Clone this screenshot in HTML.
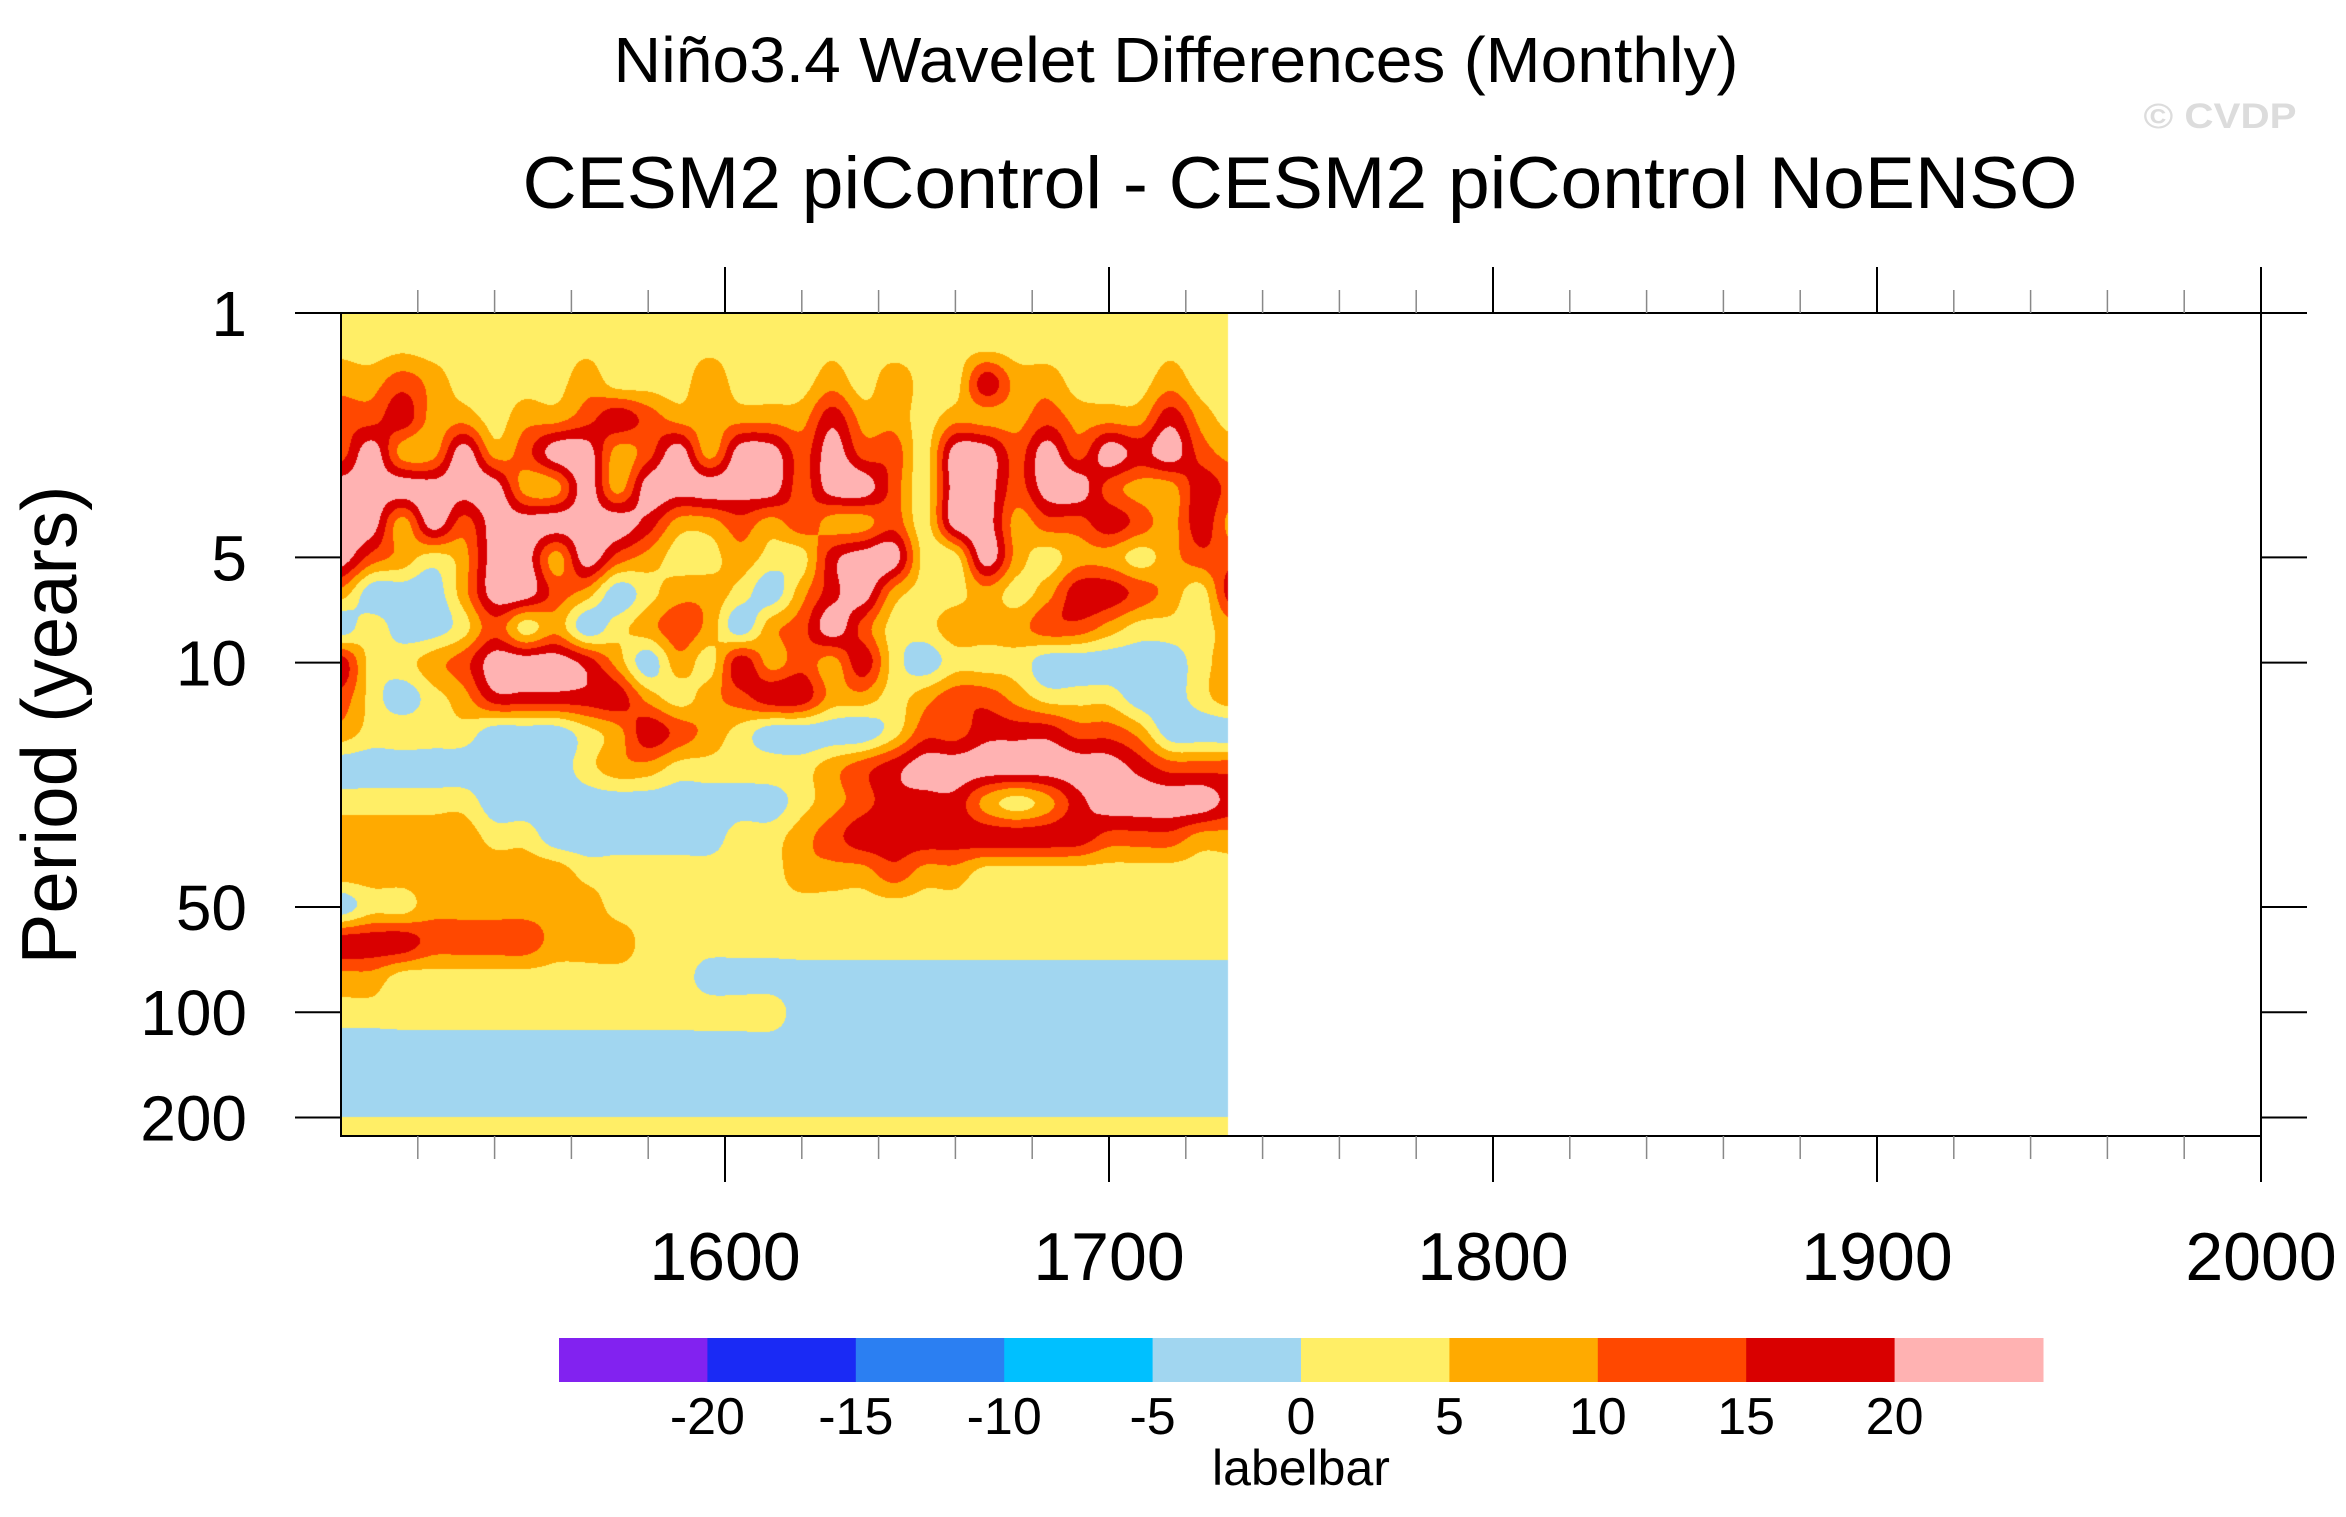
<!DOCTYPE html>
<html><head><meta charset="utf-8">
<style>
html,body{margin:0;padding:0;background:#fff;}
#wrap{position:relative;width:2346px;height:1517px;overflow:hidden;font-family:"Liberation Sans",sans-serif;}
#field{position:absolute;left:0;top:0;}
#svg{position:absolute;left:0;top:0;}
</style></head>
<body>
<div id="wrap">
<canvas id="field" width="2346" height="1517"></canvas>
<svg id="svg" width="2346" height="1517" xmlns="http://www.w3.org/2000/svg">
  <text x="1176" y="82" font-size="64" text-anchor="middle" textLength="1125" lengthAdjust="spacingAndGlyphs" font-family="Liberation Sans, sans-serif">Niño3.4 Wavelet Differences (Monthly)</text>
  <text x="1300" y="208" font-size="73" text-anchor="middle" textLength="1555" lengthAdjust="spacingAndGlyphs" font-family="Liberation Sans, sans-serif">CESM2 piControl - CESM2 piControl NoENSO</text>
  <text x="2220" y="128" font-size="35" font-weight="bold" fill="#dcdcdc" text-anchor="middle" textLength="153" lengthAdjust="spacingAndGlyphs" font-family="Liberation Sans, sans-serif">© CVDP</text>
  <text transform="translate(76,725) rotate(-90)" font-size="78" text-anchor="middle" textLength="479" lengthAdjust="spacingAndGlyphs" font-family="Liberation Sans, sans-serif">Period (years)</text>
  <g id="axes"></g>
  <g id="colorbar"></g>
  <text x="1301" y="1485" font-size="50" text-anchor="middle" font-family="Liberation Sans, sans-serif">labelbar</text>
</svg>
</div>
<script>
// ---- data ----
const startYear = 1500;
const endYear = 1731;
const yearStep = 8;
const logStep = 0.1;
// rows: log10(period) = 0, 0.1, ... 2.4 ; columns: years 1500, 1508, ...
const row0  = [3,3,3,3,3,3,3,3,3,3,3,3,3,3,3,3,3,3,3,3,3,3,3,3,3,3,3,3,3,3];
const row1  = [4,3,4,3,3,3,3,3,4,3,3,3,4,3,3,3,4,3,3,3,3,4,3,3,3,3,3,4,3,3];
const row2  = [8,8,13,8,3,3,3,3,8,3,3,3,8,3,3,3,8,3,8,3,3,18,8,8,3,3,3,8,3,3];
const row3  = [13,13,18,8,8,3,8,8,13,18,13,8,8,8,8,8,18,8,8,3,8,8,8,13,8,8,8,18,8,3];
const row4  = [13,23,8,8,23,8,13,23,23,8,13,23,8,23,23,13,23,13,13,3,23,23,13,23,13,23,18,23,13,8];
const row5  = [23,23,23,23,23,23,8,8,23,8,23,23,23,23,23,13,23,23,13,3,23,23,13,23,23,13,8,8,18,13];
const row6  = [23,23,8,23,13,23,23,23,23,23,18,8,8,13,8,13,8,8,13,3,23,23,8,13,13,18,13,8,18,8];
const row7  = [23,13,8,3,8,23,23,8,23,13,8,3,3,8,3,3,18,23,23,3,3,23,8,3,8,8,3,8,13,13];
const row8  = [8,-3,-3,-3,8,23,23,13,8,-3,3,8,8,3,-3,8,18,23,8,3,3,8,3,8,18,18,13,8,3,18];
const row9  = [-3,3,-3,-3,3,13,3,8,-3,3,8,13,8,-3,8,13,23,13,3,3,8,8,8,13,13,8,3,3,3,8];
const row10 = [18,3,3,8,13,23,23,23,18,8,-3,8,3,18,8,13,8,18,3,-3,3,3,3,-3,-3,-3,-3,-3,3,8];
const row11 = [13,3,-3,3,8,18,18,18,18,18,8,3,8,13,18,18,8,8,3,8,13,13,8,3,3,3,-3,-3,3,8];
const row12 = [8,3,3,3,3,-3,-3,-3,3,8,18,13,8,3,-3,-3,-3,-3,3,13,13,18,18,18,13,13,8,-3,-3,-3];
const row13 = [-3,-3,-3,-3,-3,-3,-3,-3,3,8,8,3,3,3,3,3,8,13,18,23,23,23,23,23,23,23,18,13,13,13];
const row14 = [3,3,3,3,3,-3,-3,-3,-3,-3,-3,-3,-3,-3,-3,3,8,13,18,18,18,8,3,8,18,23,23,23,23,18];
const row15 = [8,8,8,8,8,3,3,-3,-3,-3,-3,-3,-3,3,3,8,13,18,18,18,18,18,18,18,18,13,13,13,8,8];
const row16 = [8,8,8,8,8,8,8,8,3,3,3,3,3,3,3,8,8,8,13,8,8,3,3,3,3,3,3,3,3,3];
const row17 = [-3,3,3,8,8,8,8,8,8,3,3,3,3,3,3,3,3,3,3,3,3,3,3,3,3,3,3,3,3,3];
const row18 = [18,18,18,13,13,13,13,8,8,8,3,3,3,3,3,3,3,3,3,3,3,3,3,3,3,3,3,3,3,3];
const row19 = [8,8,3,3,3,3,3,3,3,3,3,3,-3,-3,-3,-3,-3,-3,-3,-3,-3,-3,-3,-3,-3,-3,-3,-3,-3,-3];
const row20 = [3,3,3,3,3,3,3,3,3,3,3,3,3,3,3,-3,-3,-3,-3,-3,-3,-3,-3,-3,-3,-3,-3,-3,-3,-3];
const row21 = [-3,-3,-3,-3,-3,-3,-3,-3,-3,-3,-3,-3,-3,-3,-3,-3,-3,-3,-3,-3,-3,-3,-3,-3,-3,-3,-3,-3,-3,-3];
const row22 = [-3,-3,-3,-3,-3,-3,-3,-3,-3,-3,-3,-3,-3,-3,-3,-3,-3,-3,-3,-3,-3,-3,-3,-3,-3,-3,-3,-3,-3,-3];
const row23 = [0,0,0,0,0,0,0,0,0,0,0,0,0,0,0,0,0,0,0,0,0,0,0,0,0,0,0,0,0,0];
const row24 = [3,3,3,3,3,3,3,3,3,3,3,3,3,3,3,3,3,3,3,3,3,3,3,3,3,3,3,3,3,3];
const grid = [row0,row1,row2,row3,row4,row5,row6,row7,row8,row9,row10,row11,row12,row13,row14,row15,row16,row17,row18,row19,row20,row21,row22,row23,row24];

const levels = [-20,-15,-10,-5,0,5,10,15,20];
const levelLabels = ["-20","-15","-10","-5","0","5","10","15","20"];
const fillColors = ["#8222f0","#1a2af5","#2b7ff2","#00c0ff","#a1d6f0","#ffee66","#ffaa00","#ff4800","#d90000","#ffb2b2"];
const xMajorTicks = [1600,1700,1800,1900,2000];
const xMinorTicks = [1520,1540,1560,1580,1620,1640,1660,1680,1720,1740,1760,1780,1820,1840,1860,1880,1920,1940,1960,1980];
const yTicks = [1,5,10,50,100,200];
const yTickLabels = ["1","5","10","50","100","200"];

// ---- axes ----
const plotL = 341, plotR = 2261, plotT = 313, plotB = 1136;
const xMin = 1500, xMax = 2000;
const pMin = 1, pMax = 226;
function xScale(yr){ return plotL + (yr - xMin) * (plotR - plotL) / (xMax - xMin); }
function yScale(p){ return plotT + (Math.log10(p) - Math.log10(pMin)) * (plotB - plotT) / (Math.log10(pMax) - Math.log10(pMin)); }
function colorFor(v){
  let i = 0;
  while (i < levels.length && v >= levels[i]) i++;
  return fillColors[i];
}
function hexToRgb(h){ return [parseInt(h.substr(1,2),16),parseInt(h.substr(3,2),16),parseInt(h.substr(5,2),16)]; }
function cr(p0,p1,p2,p3,t){
  return 0.5*((2*p1) + (-p0+p2)*t + (2*p0-5*p1+4*p2-p3)*t*t + (-p0+3*p1-3*p2+p3)*t*t*t);
}
function cell(r,c){
  const nR = grid.length, nC = grid[0].length;
  r = Math.max(0, Math.min(nR-1, r)); c = Math.max(0, Math.min(nC-1, c));
  return grid[r][c];
}
function sample(rf, cf){
  const r = Math.floor(rf), c = Math.floor(cf), tr = rf - r, tc = cf - c;
  const rows = [];
  for (let k = -1; k <= 2; k++){
    rows.push(cr(cell(r+k,c-1), cell(r+k,c), cell(r+k,c+1), cell(r+k,c+2), tc));
  }
  let v = cr(rows[0], rows[1], rows[2], rows[3], tr);
  const a = cell(r,c), b = cell(r,c+1), d = cell(r+1,c), e = cell(r+1,c+1);
  const lo = Math.min(a,b,d,e), hi = Math.max(a,b,d,e);
  return Math.max(lo, Math.min(hi, v));
}

// ---- draw field ----
(function(){
  const cv = document.getElementById('field');
  const ctx = cv.getContext('2d');
  const x0 = Math.round(xScale(startYear)), x1 = Math.round(xScale(endYear));
  const y0 = plotT, y1 = plotB;
  const w = x1 - x0, h = y1 - y0;
  const img = ctx.createImageData(w, h);
  const nR = grid.length, nC = grid[0].length;
  const rgbCache = {};
  for (let py = 0; py < h; py++){
    const lp = Math.log10(pMin) + (py + 0.5) / (y1 - y0) * (Math.log10(pMax) - Math.log10(pMin));
    let rf = lp / logStep; if (rf > nR - 1) rf = nR - 1;
    for (let px = 0; px < w; px++){
      const yr = xMin + (x0 + px + 0.5 - plotL) * (xMax - xMin) / (plotR - plotL);
      let cf = (yr - startYear) / yearStep; if (cf < 0) cf = 0; if (cf > nC - 1) cf = nC - 1;
      const v = sample(rf, cf);
      const col = colorFor(v);
      const rgb = rgbCache[col] || (rgbCache[col] = hexToRgb(col));
      const k = (py * w + px) * 4;
      img.data[k] = rgb[0]; img.data[k+1] = rgb[1]; img.data[k+2] = rgb[2]; img.data[k+3] = 255;
    }
  }
  ctx.putImageData(img, x0, y0);
})();

// ---- draw axes ----
(function(){
  const NS = 'http://www.w3.org/2000/svg';
  const g = document.getElementById('axes');
  function mk(tag, attrs){ const e = document.createElementNS(NS, tag); for (const k in attrs) e.setAttribute(k, attrs[k]); g.appendChild(e); return e; }
  const frame = mk('rect', {x: plotL, y: plotT, width: plotR - plotL, height: plotB - plotT, fill: 'none', stroke: '#000', 'stroke-width': 2});
  
  
  xMajorTicks.forEach(function(yr){
    const x = xScale(yr);
    const t1 = mk('line', {x1: x, x2: x, y1: plotT, y2: plotT - 46, stroke: '#000', 'stroke-width': 2});
    
    
    const t2 = mk('line', {x1: x, x2: x, y1: plotB, y2: plotB + 46, stroke: '#000', 'stroke-width': 2});
    
    
    const lb = mk('text', {x: x, y: 1280, 'font-size': 68, 'text-anchor': 'middle', 'font-family': 'Liberation Sans, sans-serif'});
    lb.textContent = String(yr);
    
    
  });
  xMinorTicks.forEach(function(yr){
    const x = xScale(yr);
    const t1 = mk('line', {x1: x, x2: x, y1: plotT, y2: plotT - 23, stroke: '#888', 'stroke-width': 1.5});
    
    
    const t2 = mk('line', {x1: x, x2: x, y1: plotB, y2: plotB + 23, stroke: '#888', 'stroke-width': 1.5});
    
    
  });
  yTicks.forEach(function(p, i){
    const y = yScale(p);
    const t1 = mk('line', {x1: plotL - 46, x2: plotL, y1: y, y2: y, stroke: '#000', 'stroke-width': 2});
    
    
    const t2 = mk('line', {x1: plotR, x2: plotR + 46, y1: y, y2: y, stroke: '#000', 'stroke-width': 2});
    
    
    const lb = mk('text', {x: 247, y: y + 23, 'font-size': 64, 'text-anchor': 'end', 'font-family': 'Liberation Sans, sans-serif'});
    lb.textContent = yTickLabels[i];
    
    
  });
})();

// ---- colorbar ----
(function(){
  const NS = 'http://www.w3.org/2000/svg';
  const g = document.getElementById('colorbar');
  const cbL = 559, cbR = 2043, cbT = 1338, cbB = 1382;
  const bw = (cbR - cbL) / fillColors.length;
  fillColors.forEach(function(c, i){
    const r = document.createElementNS(NS, 'rect');
    r.setAttribute('x', cbL + i * bw); r.setAttribute('y', cbT);
    r.setAttribute('width', bw + 0.5); r.setAttribute('height', cbB - cbT);
    r.setAttribute('fill', c);
    
    
    g.appendChild(r);
  });
  levelLabels.forEach(function(s, i){
    const t = document.createElementNS(NS, 'text');
    t.setAttribute('x', cbL + (i + 1) * bw); t.setAttribute('y', 1434);
    t.setAttribute('font-size', 52); t.setAttribute('text-anchor', 'middle');
    t.setAttribute('font-family', 'Liberation Sans, sans-serif');
    t.textContent = s;
    
    
    g.appendChild(t);
  });
})();
</script>
</body></html>
